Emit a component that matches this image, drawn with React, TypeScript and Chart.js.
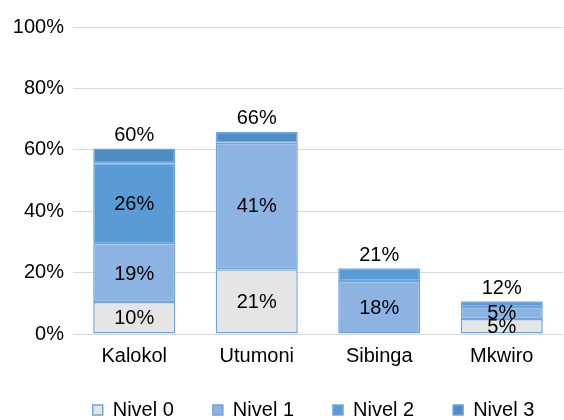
import React, { useEffect, useRef } from "react";
import { Chart, registerables } from "chart.js";

Chart.register(...registerables);

const categories = ["Kalokol", "Utumoni", "Sibinga", "Mkwiro"];
const seriesNames = ["Nivel 0", "Nivel 1", "Nivel 2", "Nivel 3"];
const nivel0 = [10.4, 21.1, 0, 4.9];
const nivel1 = [18.8, 41.2, 17.3, 3.9];
const nivel2 = [26.4, 0, 4.1, 1.9];
const nivel3 = [4.8, 3.6, 0, 0];
const labels0 = ["10%", "21%", "", "5%"];
const labels1 = ["19%", "41%", "18%", "5%"];
const labels2 = ["26%", "", "", ""];
const labels3 = ["", "", "", ""];
const totalLabels = ["60%", "66%", "21%", "12%"];
const yTicks = [0, 20, 40, 60, 80, 100];

const fills = ["#e5e5e5", "#8db3e2", "#5b9bd5", "#4f8cc6"];
const borderCol = "#6ea6dc";
const FONT = "'Liberation Sans', Arial, sans-serif";

const segLabels = [labels0, labels1, labels2, labels3];

const labelPlugin = {
  id: "valueLabels",
  afterLayout(chart: any) {
    const lg = chart.legend;
    if (!lg) return;
    lg.left += 32;
    lg.right += 32;
    lg.top -= 17;
    lg.bottom -= 17;
  },
  afterDatasetsDraw(chart: any) {
    const ctx = chart.ctx;
    ctx.save();
    ctx.font = `20px ${FONT}`;
    ctx.fillStyle = "#000";
    ctx.textAlign = "center";
    ctx.textBaseline = "middle";
    chart.data.datasets.forEach((_ds: any, i: number) => {
      const meta = chart.getDatasetMeta(i);
      meta.data.forEach((bar: any, j: number) => {
        const t = segLabels[i][j];
        if (!t) return;
        const p = bar.getProps(["x", "y", "base"], true);
        ctx.fillText(t, p.x, (p.y + p.base) / 2 + 1);
      });
    });
    const last = chart.getDatasetMeta(chart.data.datasets.length - 1);
    last.data.forEach((bar: any, j: number) => {
      const p = bar.getProps(["x", "y"], true);
      ctx.fillText(totalLabels[j], p.x, p.y - 13);
    });
    ctx.restore();
  },
};

export default function App() {
  const ref = useRef<HTMLCanvasElement>(null);
  useEffect(() => {
    if (!ref.current) return;
    const data = [nivel0, nivel1, nivel2, nivel3];
    const chart = new Chart(ref.current, {
      type: "bar",
      data: {
        labels: categories,
        datasets: data.map((d, i) => ({
          label: seriesNames[i],
          data: d,
          backgroundColor: fills[i],
          borderColor: borderCol,
          borderWidth: 1.5,
          borderSkipped: false,
          barPercentage: 0.67,
          categoryPercentage: 1,
        })),
      },
      options: {
        responsive: false,
        animation: false,
        layout: { padding: { top: 27, left: 0, right: 1, bottom: -27 } },
        plugins: {
          tooltip: { enabled: false },
          legend: {
            position: "bottom",
            labels: {
              boxWidth: 10,
              boxHeight: 10,
              padding: 39,
              color: "#000",
              font: { family: FONT, size: 20 },
            },
          },
        },
        scales: {
          x: {
            stacked: true,
            grid: { display: false, drawTicks: false },
            border: { display: false },
            ticks: { color: "#000", padding: 10, font: { family: FONT, size: 20 } },
          },
          y: {
            stacked: true,
            min: 0,
            max: 100,
            afterBuildTicks: (s: any) => {
              s.ticks = yTicks.map((v) => ({ value: v }));
            },
            grid: { color: "#d9d9d9", lineWidth: 1, drawTicks: false },
            border: { display: false },
            ticks: {
              color: "#000",
              padding: 9,
              font: { family: FONT, size: 20 },
              callback: (v: any) => v + "%",
            },
            afterFit: (s: any) => {
              s.width = 73;
            },
          },
        },
      },
      plugins: [labelPlugin],
    });
    return () => chart.destroy();
  }, []);
  return (
    <div style={{ position: "absolute", left: 0, top: 0, width: 564, height: 420, background: "#fff" }}>
      <canvas ref={ref} width={564} height={420} style={{ display: "block" }} />
    </div>
  );
}
